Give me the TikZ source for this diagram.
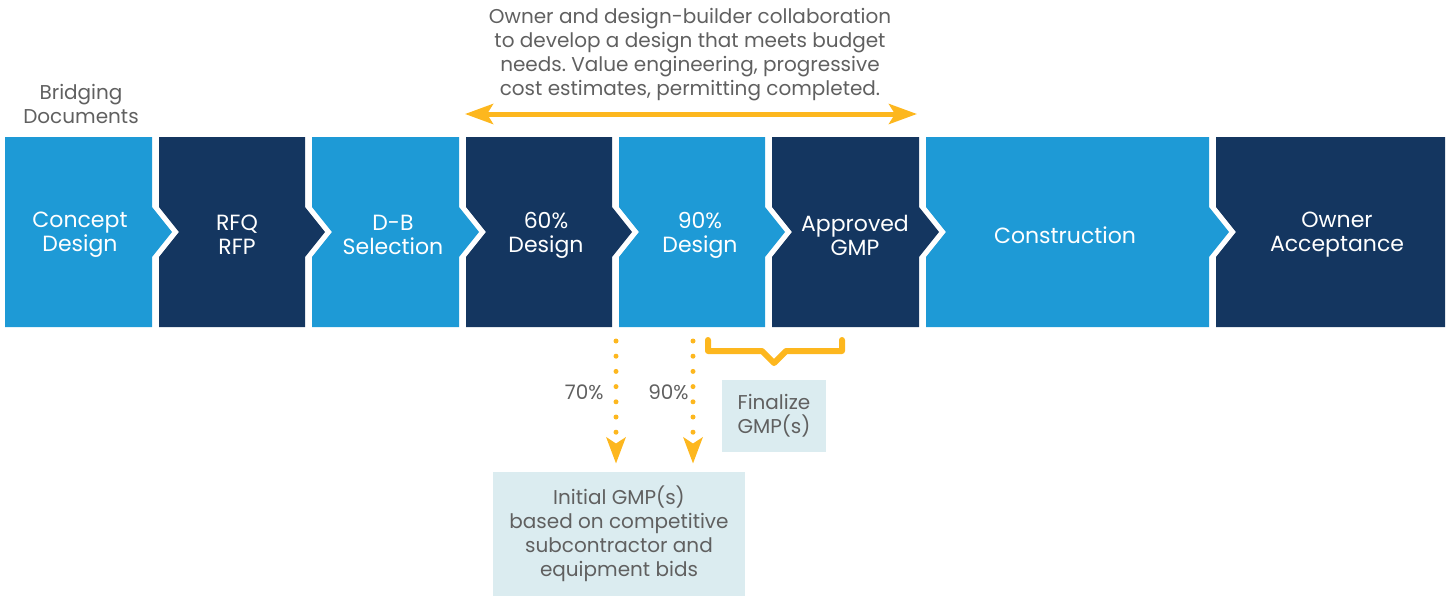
\documentclass[tikz,border=0pt]{standalone}
\usepackage{fontspec}
\setmainfont{Poppins}
\frenchspacing
\usetikzlibrary{arrows.meta,positioning,calc}
\definecolor{stepblue}{RGB}{30,154,214}
\definecolor{stepnavy}{RGB}{20,54,96}
\definecolor{gold}{RGB}{253,183,30}
\definecolor{notegray}{RGB}{96,96,96}
\definecolor{notefill}{RGB}{219,236,240}
\tikzset{
  steptext/.style={text=white, align=center, inner sep=0pt,
    font=\fontsize{11}{12}\selectfont},
  note/.style={text=notegray, align=center, inner sep=0pt,
    font=\fontsize{10}{12}\selectfont},
  notebox/.style={note, fill=notefill},
  span/.style={gold, line width=2.5pt,
    {Stealth[length=14pt,width=10pt,inset=3pt]}-{Stealth[length=14pt,width=10pt,inset=3pt]}},
  dotarrow/.style={gold, line width=2.5pt, line cap=round,
    dash pattern=on 0pt off 7.6pt,
    -{Stealth[length=13pt,width=9.5pt,inset=3pt]}},
  brace/.style={gold, line width=3pt, line join=round, line cap=round}
}

\begin{document}
\begin{tikzpicture}[x=0.5pt,y=-0.5pt]
  \useasboundingbox (0,0) rectangle (1447,595);

  % process steps
  \foreach \xa/\xb/\tx/\col/\nm/\txt [count=\i] in {
      5/152/80/stepblue/concept/{Concept\\Design},
      159/305/237/stepnavy/rfq/{RFQ\\RFP},
      312/459/393/stepblue/dbsel/{D-B\\Selection},
      466/612/546/stepnavy/design60/{60\%\\Design},
      619/765/700/stepblue/design90/{90\%\\Design},
      772/919/855/stepnavy/gmp/{Approved\\GMP},
      926/1209/1065/stepblue/constr/{Construction},
      1216/1445/1337/stepnavy/accept/{Owner\\Acceptance}} {
    \pgfmathsetmacro\tip{\i<8 ? 20 : 0}
    \pgfmathsetmacro\notch{\i>1 ? 20 : 0}
    \fill[\col] (\xa,137) -- (\xb,137) -- (\xb,207) -- (\xb+\tip,232)
      -- (\xb,257) -- (\xb,327) -- (\xa,327) -- (\xa,257)
      -- (\xa+\notch,232) -- (\xa,207) -- cycle;
    \node[steptext] (\nm) at (\tx,235) {\txt};
  }

  % notes above
  \node[note] (bridging) at (81,104) {Bridging\\Documents};
  \node[note] (collab) at (690,55) {Owner and design-builder collaboration\\
    to develop a design that meets budget\\
    needs. Value engineering, progressive\\
    cost estimates, permitting completed.};
  \coordinate (spanL) at (465,114);
  \coordinate (spanR) at (917,114);
  \draw[span] (spanL) -- (spanR);

  % notes below
  \node[notebox, minimum width=126pt, minimum height=62pt] (initial) at (619,534)
    {Initial GMP(s)\\based on competitive\\subcontractor and\\equipment bids};
  \node[notebox, minimum width=52pt, minimum height=36pt] (finalize) at (774,416)
    {Finalize\\GMP(s)};

  \coordinate (d70) at (616,341);
  \coordinate (d90) at (693,341);
  \draw[dotarrow, shorten >=4pt] (d70) -- (d70 |- initial.north);
  \draw[dotarrow, shorten >=4pt] (d90) -- (d90 |- initial.north);
  \node[note, anchor=east] (p70) at (604,392) {70\%};
  \node[note, anchor=east] (p90) at (689,392) {90\%};

  \draw[brace] (708,340) -- (708,351) -- (762,351) -- (774,363)
    -- (786,351) -- (842,351) -- (842,340);
\end{tikzpicture}
\end{document}
